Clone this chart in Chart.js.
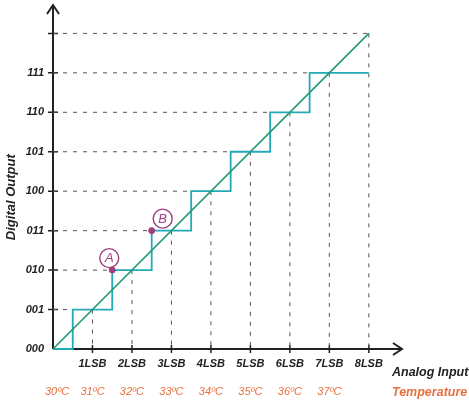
<!DOCTYPE html>
<html>
<head>
<meta charset="utf-8">
<title>ADC transfer function</title>
<script src="https://cdn.jsdelivr.net/npm/chart.js@4.4.1/dist/chart.umd.min.js"></script>
<style>
  html, body { margin: 0; padding: 0; background: #fff; }
  #wrap { width: 469px; height: 400px; position: relative; }
</style>
</head>
<body>
<div id="wrap"><canvas id="adcChart"></canvas></div>
<script>
// analog input in LSB steps and the ideal 3-bit output code for each
const inputSteps = [0, 1, 2, 3, 4, 5, 6, 7, 8];
const outputCodes = [0, 1, 2, 3, 4, 5, 6, 7, 7];
const codeLevels = [0, 1, 2, 3, 4, 5, 6, 7, 8];
const codeLabels = ['000', '001', '010', '011', '100', '101', '110', '111', ''];
const lsbLabels = ['', '1LSB', '2LSB', '3LSB', '4LSB', '5LSB', '6LSB', '7LSB', '8LSB'];
const temperatures = ['30ºC', '31ºC', '32ºC', '33ºC', '34ºC', '35ºC', '36ºC', '37ºC'];

// ideal straight line
const idealX = [0, 8];
const idealY = [0, 8];

// marked points A and B on the staircase
const markNames = ['A', 'B'];
const markX = [1.5, 2.5];
const markY = [2, 3];

const INK = '#222';
const GUIDE = '#555';
const STAIR = '#22aab8';
const LINE = '#1f9a70';
const MARK = '#a0407f';
const TEMP = '#e8703f';
const FONT = '"Liberation Sans", Arial, sans-serif';

// dashed guides: horizontal up to where the stair reaches the code, vertical down from the ideal line
const guides = [];
codeLevels.slice(1).forEach(function (k) {
    const stepAt = k < outputCodes[outputCodes.length - 1] + 1 ? k - 0.5 : inputSteps[inputSteps.length - 1];
    guides.push([{ x: 0, y: k }, { x: stepAt, y: k }]);
    guides.push([{ x: k, y: k }, { x: k, y: 0 }]);
});

const guideSets = guides.map(function (pts) {
    return {
        data: pts,
        borderColor: GUIDE,
        borderWidth: 1,
        borderDash: [4, 6],
        pointRadius: 0,
        showLine: true,
        order: 5
    };
});

const axesPlugin = {
    id: 'adcAxes',
    beforeDatasetsDraw(chart) {
        const ctx = chart.ctx;
        const xs = chart.scales.x, ys = chart.scales.y;
        const x0 = xs.getPixelForValue(0), y0 = ys.getPixelForValue(0);
        const area = chart.chartArea;
        ctx.save();
        ctx.strokeStyle = INK;
        ctx.lineWidth = 2;
        ctx.beginPath();
        ctx.moveTo(x0, y0);
        ctx.lineTo(x0, area.top);
        ctx.moveTo(x0, y0);
        ctx.lineTo(area.right, y0);
        ctx.stroke();
        // arrow heads
        ctx.beginPath();
        ctx.moveTo(x0 - 6, area.top + 9);
        ctx.lineTo(x0, area.top);
        ctx.lineTo(x0 + 6, area.top + 9);
        ctx.moveTo(area.right - 9, y0 - 6);
        ctx.lineTo(area.right, y0);
        ctx.lineTo(area.right - 9, y0 + 6);
        ctx.stroke();

        // ticks
        ctx.lineWidth = 1.5;
        ctx.beginPath();
        codeLevels.slice(1).forEach(function (k) {
            const py = ys.getPixelForValue(k);
            ctx.moveTo(x0 - 5, py);
            ctx.lineTo(x0 + 5, py);
        });
        inputSteps.slice(1).forEach(function (v) {
            const px = xs.getPixelForValue(v);
            ctx.moveTo(px, y0 - 4);
            ctx.lineTo(px, y0 + 4);
        });
        ctx.stroke();

        // y tick labels
        ctx.fillStyle = INK;
        ctx.font = 'italic bold 11px ' + FONT;
        ctx.textAlign = 'right';
        ctx.textBaseline = 'middle';
        codeLevels.forEach(function (k, i) {
            ctx.fillText(codeLabels[i], x0 - 9, ys.getPixelForValue(k));
        });
        // x tick labels
        ctx.textAlign = 'center';
        inputSteps.forEach(function (v, i) {
            ctx.fillText(lsbLabels[i], xs.getPixelForValue(v), y0 + 15);
        });
        // temperatures
        ctx.fillStyle = TEMP;
        ctx.font = 'italic 11px ' + FONT;
        temperatures.forEach(function (t, i) {
            ctx.fillText(t, xs.getPixelForValue(inputSteps[i]) + (i === 0 ? 4 : 0), y0 + 43);
        });

        // axis titles
        ctx.textAlign = 'left';
        ctx.font = 'italic bold 12.5px ' + FONT;
        ctx.fillStyle = INK;
        ctx.fillText('Analog Input', area.right - 10, y0 + 24);
        ctx.fillStyle = TEMP;
        ctx.fillText('Temperature', area.right - 10, y0 + 44);

        ctx.save();
        ctx.translate(11, ys.getPixelForValue(4) + 6);
        ctx.rotate(-Math.PI / 2);
        ctx.textAlign = 'center';
        ctx.fillStyle = INK;
        ctx.font = 'italic bold 13px ' + FONT;
        ctx.fillText('Digital Output', 0, 0);
        ctx.restore();
        ctx.restore();
    },
    afterDatasetsDraw(chart) {
        const ctx = chart.ctx;
        const xs = chart.scales.x, ys = chart.scales.y;
        const offsets = [[-3, -12], [11, -12]];
        ctx.save();
        ctx.strokeStyle = MARK;
        ctx.fillStyle = MARK;
        ctx.lineWidth = 1.4;
        ctx.font = 'italic 13px ' + FONT;
        ctx.textAlign = 'center';
        ctx.textBaseline = 'middle';
        markNames.forEach(function (n, i) {
            const cx = xs.getPixelForValue(markX[i]) + offsets[i][0];
            const cy = ys.getPixelForValue(markY[i]) + offsets[i][1];
            ctx.beginPath();
            ctx.arc(cx, cy, 9.5, 0, Math.PI * 2);
            ctx.stroke();
            ctx.fillText(n, cx, cy + 0.5);
        });
        ctx.restore();
    }
};

document.addEventListener('DOMContentLoaded', function () {
    const ctx = document.getElementById('adcChart');
    new Chart(ctx, {
        type: 'scatter',
        data: {
            datasets: [
                {
                    data: markX.map(function (x, i) { return { x: x, y: markY[i] }; }),
                    backgroundColor: MARK,
                    borderColor: MARK,
                    pointRadius: 3,
                    order: 0
                },
                {
                    data: idealX.map(function (x, i) { return { x: x, y: idealY[i] }; }),
                    borderColor: LINE,
                    borderWidth: 1.6,
                    pointRadius: 0,
                    showLine: true,
                    order: 1
                },
                {
                    data: inputSteps.map(function (x, i) { return { x: x, y: outputCodes[i] }; }),
                    borderColor: STAIR,
                    borderWidth: 1.8,
                    pointRadius: 0,
                    showLine: true,
                    stepped: 'middle',
                    order: 2
                }
            ].concat(guideSets)
        },
        options: {
            responsive: true,
            maintainAspectRatio: false,
            animation: false,
            clip: false,
            layout: { padding: { left: 53, right: 67, top: 4, bottom: 51 } },
            plugins: { legend: { display: false }, tooltip: { enabled: false } },
            scales: {
                x: { type: 'linear', min: 0, max: 8.84, display: false },
                y: { type: 'linear', min: 0, max: 8.72, display: false }
            }
        },
        plugins: [axesPlugin]
    });
});
</script>
</body>
</html>
